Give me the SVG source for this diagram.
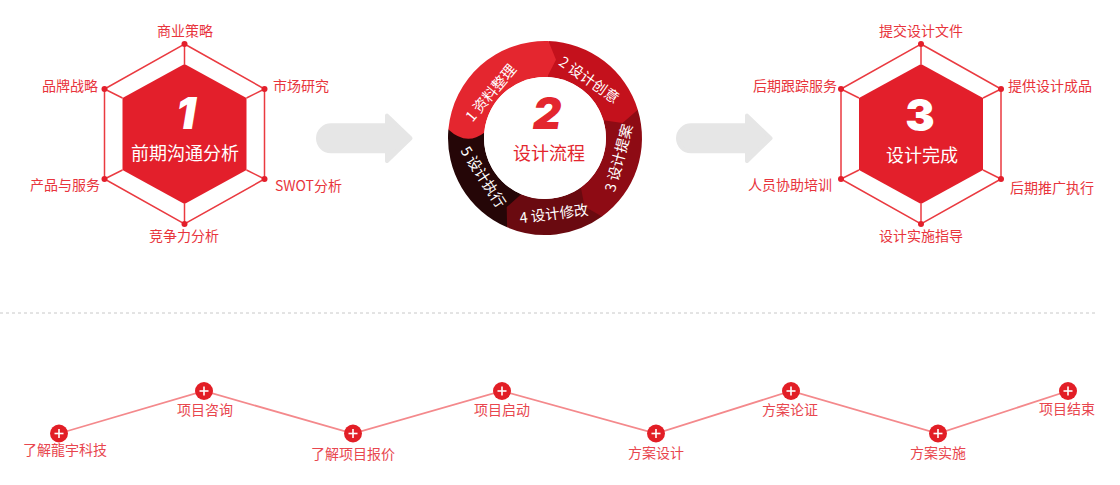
<svg xmlns="http://www.w3.org/2000/svg" width="1120" height="485" viewBox="0 0 1120 485">
<style>
.lbl{font-family:"Noto Sans CJK SC","Liberation Sans",sans-serif;font-size:14px;fill:#e8343c}
.tl{font-family:"Noto Sans CJK SC","Liberation Sans",sans-serif;font-size:14px;fill:#e8464e}
.big{font-family:"Noto Sans CJK SC","Liberation Sans",sans-serif;font-size:18px;fill:#ffffff}
.seg{font-family:"Noto Sans CJK SC","Liberation Sans",sans-serif;font-size:14.5px;fill:#ffffff}
.digit{font-family:Inter,"DejaVu Sans",sans-serif;font-weight:900;font-size:44px}
.outer{fill:none;stroke:#ea3a40;stroke-width:1.5}
.spoke{stroke:#ea3a40;stroke-width:1.5}
.inner{fill:#e31f2b}
.dot{fill:#e31f2b}
.arrow{fill:#e6e6e6;stroke:#e6e6e6;stroke-width:4;stroke-linejoin:round}
.tline{fill:none;stroke:#f4898c;stroke-width:1.8}
.tc{fill:#e21e26}
.plus{stroke:#ffffff;stroke-width:1.6}
</style>
<defs>
<g id="hex">
<polygon class="outer" points="0,-90 80,-45 80,45 0,90 -80,45 -80,-45"/>
<line class="spoke" x1="0" y1="-90" x2="0" y2="-70"/>
<line class="spoke" x1="80" y1="-45" x2="62" y2="-36"/>
<line class="spoke" x1="80" y1="45" x2="62" y2="36"/>
<line class="spoke" x1="0" y1="90" x2="0" y2="70"/>
<line class="spoke" x1="-80" y1="45" x2="-62" y2="36"/>
<line class="spoke" x1="-80" y1="-45" x2="-62" y2="-36"/>
<polygon class="inner" points="0,-70 62,-36 62,36 0,70 -62,36 -62,-36"/>
<circle class="dot" cx="0" cy="-90" r="3"/>
<circle class="dot" cx="80" cy="-45" r="3"/>
<circle class="dot" cx="80" cy="45" r="3"/>
<circle class="dot" cx="0" cy="90" r="3"/>
<circle class="dot" cx="-80" cy="45" r="3"/>
<circle class="dot" cx="-80" cy="-45" r="3"/>
</g>
<g id="tnode">
<circle class="tc" r="9"/>
<line class="plus" x1="-4.5" y1="0" x2="4.5" y2="0"/>
<line class="plus" x1="0" y1="-4.5" x2="0" y2="4.5"/>
</g>
<path id="arr" class="arrow" d="M331 125.3 H387 V115.6 L410.5 138.3 L387 161 V151.3 H331 A13 13 0 0 1 331 125.3 Z"/>
</defs>

<g id="connectors">
<use href="#arr"/>
<use href="#arr" transform="translate(360 0)"/>
<line x1="0" y1="313" x2="1095" y2="313" stroke="#c8c8c8" stroke-width="1" stroke-dasharray="3 3"/>
<polyline class="tline" points="59,433.5 204,391 353,433.5 502,391 656,433.5 791,391 938,433.5 1068,391"/>
</g>

<g id="node-analysis">
<use href="#hex" transform="translate(184.5 134)"/>
<text class="digit" x="186" y="129" text-anchor="middle" fill="#ffffff" font-style="italic">1</text>
<text class="big" x="185" y="160" text-anchor="middle">前期沟通分析</text>
<text class="lbl" x="185" y="35.5" text-anchor="middle">商业策略</text>
<text class="lbl" x="273" y="91">市场研究</text>
<text class="lbl" x="98" y="91" text-anchor="end">品牌战略</text>
<text class="lbl" x="100" y="190" text-anchor="end">产品与服务</text>
<text class="lbl" x="275" y="191">SWOT分析</text>
<text class="lbl" x="184" y="241" text-anchor="middle">竞争力分析</text>
</g>

<g id="node-process">
<path fill="#250607" d="M507.10 227.29 A97 97 0 0 1 448.37 129.54 L467.45 122.93 L484.23 132.68 A61 61 0 0 0 521.17 194.15 Z"/>
<path fill="#6a0a10" d="M602.01 216.48 A97 97 0 0 1 507.10 227.29 L506.70 207.09 L521.17 194.15 A61 61 0 0 0 580.86 187.35 Z"/>
<path fill="#8e0b14" d="M637.76 109.64 A97 97 0 0 1 602.01 216.48 L584.5 206.41 L580.86 187.35 A61 61 0 0 0 603.33 120.16 Z"/>
<path fill="#c4111c" d="M548.39 41.06 A97 97 0 0 1 637.76 109.64 L622.55 122.93 L603.33 120.16 A61 61 0 0 0 547.13 77.04 Z"/>
<path fill="#e4262f" d="M484.23 132.68 Q466.43 146.26 448.37 129.54 A97 97 0 0 1 548.39 41.06 L556.0 59.77 L547.13 77.04 A61 61 0 0 0 484.23 132.68 Z"/>
<circle cx="545" cy="138" r="61" fill="#ffffff"/>
<text class="seg" transform="translate(491 93) rotate(-50)" text-anchor="middle" dy="5">1 资料整理</text>
<text class="seg" transform="translate(589 80) rotate(35)" text-anchor="middle" dy="5">2 设计创意</text>
<text class="seg" transform="translate(619 158) rotate(-75)" text-anchor="middle" dy="5">3 设计提案</text>
<text class="seg" transform="translate(554 214) rotate(-7)" text-anchor="middle" dy="5">4 设计修改</text>
<text class="seg" transform="translate(483 177) rotate(57)" text-anchor="middle" dy="5">5 设计执行</text>
<text class="digit" x="547" y="129" text-anchor="middle" fill="#e3262e" font-style="italic">2</text>
<text class="big" x="549" y="160" text-anchor="middle" style="fill:#e3262e">设计流程</text>
</g>

<g id="node-complete">
<use href="#hex" transform="translate(921 134)"/>
<text class="digit" x="920" y="131" text-anchor="middle" fill="#ffffff">3</text>
<text class="big" x="922" y="162" text-anchor="middle">设计完成</text>
<text class="lbl" x="921" y="35.5" text-anchor="middle">提交设计文件</text>
<text class="lbl" x="1008" y="91">提供设计成品</text>
<text class="lbl" x="837" y="91" text-anchor="end">后期跟踪服务</text>
<text class="lbl" x="832" y="190" text-anchor="end">人员协助培训</text>
<text class="lbl" x="1010" y="193">后期推广执行</text>
<text class="lbl" x="921" y="241" text-anchor="middle">设计实施指导</text>
</g>

<g id="t1"><use href="#tnode" transform="translate(59 433.5)"/><text class="tl" x="65" y="454.5" text-anchor="middle">了解龍宇科技</text></g>
<g id="t2"><use href="#tnode" transform="translate(204 391)"/><text class="tl" x="205" y="415" text-anchor="middle">项目咨询</text></g>
<g id="t3"><use href="#tnode" transform="translate(353 433.5)"/><text class="tl" x="353" y="459" text-anchor="middle">了解项目报价</text></g>
<g id="t4"><use href="#tnode" transform="translate(502 391)"/><text class="tl" x="502" y="415" text-anchor="middle">项目启动</text></g>
<g id="t5"><use href="#tnode" transform="translate(656 433.5)"/><text class="tl" x="656" y="458" text-anchor="middle">方案设计</text></g>
<g id="t6"><use href="#tnode" transform="translate(791 391)"/><text class="tl" x="790" y="415" text-anchor="middle">方案论证</text></g>
<g id="t7"><use href="#tnode" transform="translate(938 433.5)"/><text class="tl" x="938" y="458" text-anchor="middle">方案实施</text></g>
<g id="t8"><use href="#tnode" transform="translate(1068 391)"/><text class="tl" x="1067" y="414" text-anchor="middle">项目结束</text></g>
</svg>
